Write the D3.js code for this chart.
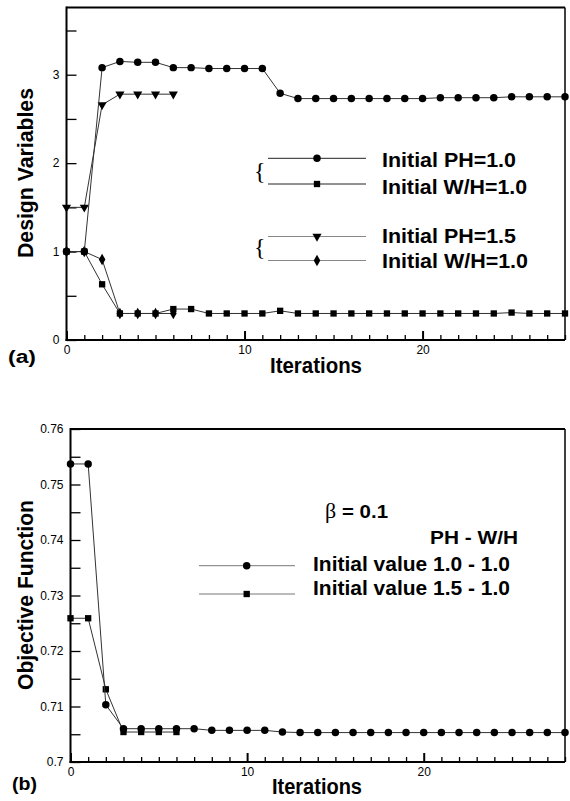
<!DOCTYPE html>
<html><head><meta charset="utf-8">
<script src="https://cdn.jsdelivr.net/npm/d3@7"></script>
<style>body{margin:0;background:#fff}svg{display:block}</style>
</head><body>
<script>
// ---------- data ----------
// (a) design variables vs iterations (index = iteration)
const phInit10 = [1.0,1.0,3.08,3.15,3.14,3.14,3.08,3.08,3.07,3.07,3.07,3.07,2.79,2.73,2.73,2.73,2.73,2.73,2.73,2.73,2.73,2.74,2.74,2.74,2.74,2.75,2.75,2.75,2.75];
const whInit10 = [1.0,1.0,0.63,0.30,0.30,0.30,0.35,0.35,0.30,0.30,0.30,0.30,0.33,0.30,0.30,0.30,0.30,0.30,0.30,0.30,0.30,0.30,0.30,0.30,0.30,0.31,0.30,0.30,0.30];
const phInit15 = [1.5,1.5,2.66,2.78,2.78,2.78,2.78];
const whInit10b = [1.0,1.0,0.91,0.30,0.30,0.30,0.30];
const legendA = ["Initial PH=1.0","Initial W/H=1.0","Initial PH=1.5","Initial W/H=1.0"];
const yTicksA = [0,1,2,3];
const yMinorA = [0.5,1.5,2.5,3.5];
// (b) objective function vs iterations
const obj10 = [0.7537,0.7537,0.7103,0.7060,0.7060,0.7060,0.7060,0.7060,0.7057,0.7057,0.7057,0.7057,0.7054,0.7053,0.7053,0.7053,0.7053,0.7053,0.7053,0.7053,0.7053,0.7053,0.7053,0.7053,0.7053,0.7053,0.7053,0.7053,0.7053];
const obj15 = [0.7259,0.7259,0.7131,0.7054,0.7054,0.7054,0.7054];
const legendB = ["Initial value 1.0 - 1.0","Initial value 1.5 - 1.0"];
const yTicksB = [0.70,0.71,0.72,0.73,0.74,0.75,0.76];
const yMinorB = [0.705,0.715,0.725,0.735,0.745,0.755];
const xTicks = [0,10,20];
const xMinor = [1,2,3,4,5,6,7,8,9,11,12,13,14,15,16,17,18,19,21,22,23,24,25,26,27,28];

const W=570,H=801;
const svg=d3.select("body").append("svg").attr("width",W).attr("height",H);
const FONT="Liberation Sans, Arial, sans-serif";
const LINE="#333";

const shapes={
  circle:{t:d3.symbolCircle,s:44,r:0},
  square:{t:d3.symbolSquare,s:40,r:0},
  tri:{t:d3.symbolTriangle,s:36,r:180},
  diamond:{t:d3.symbolDiamond,s:38,r:0}
};
function marker(g,x,y,k){
  const sh=shapes[k];
  g.append("path").attr("d",d3.symbol().type(sh.t).size(sh.s)())
   .attr("transform",`translate(${x},${y}) rotate(${sh.r})`).attr("fill","#000");
}

function frame(x,y){
  const [x0,x1]=x.range(),[y0,y1]=y.range();
  svg.append("line").attr("x1",x0).attr("x2",x1).attr("y1",y1).attr("y2",y1).attr("stroke","#000").attr("stroke-width",2);
  svg.append("line").attr("x1",x1).attr("x2",x1).attr("y1",y1).attr("y2",y0).attr("stroke","#000").attr("stroke-width",1.5);
  svg.append("line").attr("x1",x0).attr("x2",x0).attr("y1",y1-1).attr("y2",y0+1).attr("stroke","#000").attr("stroke-width",2);
  svg.append("line").attr("x1",x0-1).attr("x2",x1).attr("y1",y0).attr("y2",y0).attr("stroke","#000").attr("stroke-width",2);
}
function axes(x,y,yt,ym,fmt){
  const y0=y.range()[0],x0=x.range()[0];
  const gx=svg.append("g").attr("transform",`translate(0,${y0})`)
    .call(d3.axisBottom(x).tickValues(xTicks).tickSize(-9).tickPadding(5));
  const gxm=svg.append("g").attr("transform",`translate(0,${y0})`)
    .call(d3.axisBottom(x).tickValues(xMinor).tickSize(-5).tickFormat(""));
  const gy=svg.append("g").attr("transform",`translate(${x0},0)`)
    .call(d3.axisLeft(y).tickValues(yt).tickSize(-10).tickPadding(7).tickFormat(fmt));
  const gym=svg.append("g").attr("transform",`translate(${x0},0)`)
    .call(d3.axisLeft(y).tickValues(ym).tickSize(-10).tickFormat(""));
  [gx,gxm,gy,gym].forEach(g=>{
    g.select(".domain").remove();
    g.selectAll("line").attr("stroke","#000").attr("stroke-width",1.3);
    g.selectAll("text").attr("font-family",FONT).attr("font-size",12).attr("fill","#000");
  });
  gx.selectAll("line").attr("stroke-width",2);
}
function series(x,y,vals,k){
  const g=svg.append("g");
  g.append("path").datum(vals).attr("fill","none").attr("stroke",LINE).attr("stroke-width",1)
   .attr("d",d3.line().x((d,i)=>x(i)).y(d=>y(d)));
  vals.forEach((d,i)=>marker(g,x(i),y(d),k));
}
function txt(x,y,s,size,len,weight,anchor){
  const t=svg.append("text").attr("x",x).attr("y",y).text(s)
    .attr("font-family",FONT).attr("font-size",size).attr("font-weight",weight||"bold").attr("fill","#000");
  if(len) t.attr("textLength",len).attr("lengthAdjust","spacingAndGlyphs");
  if(anchor) t.attr("text-anchor",anchor);
  return t;
}

// ---------- chart (a) ----------
const xA=d3.scaleLinear([0,28],[66.5,565]);
const yA=d3.scaleLinear([0,3.76],[340,7.5]);
axes(xA,yA,yTicksA,yMinorA,d3.format("d"));
series(xA,yA,whInit10,"square");
series(xA,yA,whInit10b,"diamond");
series(xA,yA,phInit15,"tri");
series(xA,yA,phInit10,"circle");
frame(xA,yA);

const legA=[{y:158.3,k:"circle",c:"#222",ty:166.7,len:134},{y:184,k:"square",c:"#222",ty:194,len:145},
            {y:236.5,k:"tri",c:"#888",ty:243.3,len:134},{y:260.5,k:"diamond",c:"#888",ty:268.3,len:146}];
legA.forEach((d,i)=>{
  svg.append("line").attr("x1",268).attr("x2",366).attr("y1",d.y).attr("y2",d.y).attr("stroke",d.c).attr("stroke-width",1);
  marker(svg,317,d.y,d.k);
  txt(382,d.ty,legendA[i],20,d.len);
});
[172.5,249].forEach(c=>{
  svg.append("text").attr("x",254).attr("y",c+6).text("{")
    .attr("font-family","Liberation Serif, Times New Roman, serif").attr("font-size",24).attr("fill","#000");
});
txt(316,373,"Iterations",22,92,"bold","middle");
txt(8,363,"(a)",18,28);
svg.append("text").attr("transform","translate(32.5,173) rotate(-90)").attr("text-anchor","middle")
  .text("Design Variables").attr("font-family",FONT).attr("font-size",22).attr("font-weight","bold")
  .attr("textLength",170).attr("lengthAdjust","spacingAndGlyphs");

// ---------- chart (b) ----------
const xB=d3.scaleLinear([0,28],[70.5,565]);
const yB=d3.scaleLinear([0.70,0.76],[762,429]);
axes(xB,yB,yTicksB,yMinorB,d=>String(+d.toFixed(2)));
series(xB,yB,obj15,"square");
series(xB,yB,obj10,"circle");
frame(xB,yB);

const legB=[{y:565.7,k:"circle",ty:571},{y:594,k:"square",ty:595}];
legB.forEach((d,i)=>{
  svg.append("line").attr("x1",199).attr("x2",295).attr("y1",d.y).attr("y2",d.y).attr("stroke","#777").attr("stroke-width",1);
  marker(svg,246.7,d.y,d.k);
  txt(313,d.ty,legendB[i],20,197);
});
svg.append("text").attr("x",325).attr("y",518).text("β")
  .attr("font-family","Liberation Serif, Times New Roman, serif").attr("font-size",22).attr("fill","#000");
txt(342,518,"= 0.1",19,46);
txt(430,544.3,"PH - W/H",18,88);
txt(317,794,"Iterations",22,90,"bold","middle");
txt(12,789.5,"(b)",18,25);
svg.append("text").attr("transform","translate(32.5,595) rotate(-90)").attr("text-anchor","middle")
  .text("Objective Function").attr("font-family",FONT).attr("font-size",22).attr("font-weight","bold")
  .attr("textLength",190).attr("lengthAdjust","spacingAndGlyphs");
</script>
</body></html>
